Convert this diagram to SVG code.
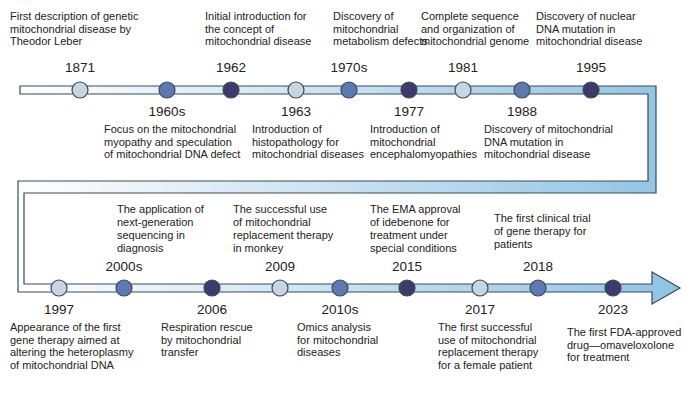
<svg xmlns="http://www.w3.org/2000/svg" width="700" height="407" viewBox="0 0 700 407">
<style>
text{font-family:"Liberation Sans",Arial,sans-serif;fill:#222}
.d{font-size:11px}
.y{font-size:13.5px;text-anchor:middle}
.band{fill:url(#g);stroke:#3a4a5a;stroke-width:1.2}
.c{stroke:#3a4a5a;stroke-width:1.2}
.l{fill:#c8d6e2}.m{fill:#5d79b1}.k{fill:#3d3b6d}
</style>
<defs>
<linearGradient id="g" x1="0" x2="1" y1="0" y2="0"><stop offset="0" stop-color="#ffffff"/><stop offset="1" stop-color="#8fc3e4"/></linearGradient>
</defs>
<rect width="700" height="407" fill="#fff"/>
<g id="connectors">
<path class="band" d="M20,86 H656 V193 H24 V284 H652 V272 L680,288 L652,304 V292 H18 V181 H648 V94 H20 Z"/>
</g>
<g id="n1871"><circle class="c l" cx="80" cy="90" r="8"/><text class="y" x="80" y="72">1871</text><text class="d"><tspan x="10" y="20">First description of genetic</tspan><tspan x="10" y="32.5">mitochondrial disease by</tspan><tspan x="10" y="45">Theodor Leber</tspan></text></g>
<g id="n1960s"><circle class="c m" cx="167" cy="90" r="8"/><text class="y" x="167" y="116">1960s</text><text class="d"><tspan x="104" y="133">Focus on the mitochondrial</tspan><tspan x="104" y="145.5">myopathy and speculation</tspan><tspan x="104" y="158">of mitochondrial DNA defect</tspan></text></g>
<g id="n1962"><circle class="c k" cx="231" cy="90" r="8"/><text class="y" x="231" y="72">1962</text><text class="d"><tspan x="205" y="20">Initial introduction for</tspan><tspan x="205" y="32.5">the concept of</tspan><tspan x="205" y="45">mitochondrial disease</tspan></text></g>
<g id="n1963"><circle class="c l" cx="296" cy="90" r="8"/><text class="y" x="296" y="116">1963</text><text class="d"><tspan x="252" y="133">Introduction of</tspan><tspan x="252" y="145.5">histopathology for</tspan><tspan x="252" y="158">mitochondrial diseases</tspan></text></g>
<g id="n1970s"><circle class="c m" cx="349" cy="90" r="8"/><text class="y" x="349" y="72">1970s</text><text class="d" font-size="10"><tspan x="333" y="20">Discovery of</tspan><tspan x="333" y="32.5">mitochondrial</tspan><tspan x="333" y="45">metabolism defects</tspan></text></g>
<g id="n1977"><circle class="c k" cx="409" cy="90" r="8"/><text class="y" x="409" y="116">1977</text><text class="d"><tspan x="370" y="133">Introduction of</tspan><tspan x="370" y="145.5">mitochondrial</tspan><tspan x="370" y="158">encephalomyopathies</tspan></text></g>
<g id="n1981"><circle class="c l" cx="463" cy="90" r="8"/><text class="y" x="463" y="72">1981</text><text class="d"><tspan x="421" y="20">Complete sequence</tspan><tspan x="421" y="32.5">and organization of</tspan><tspan x="421" y="45">mitochondrial genome</tspan></text></g>
<g id="n1988"><circle class="c m" cx="522" cy="90" r="8"/><text class="y" x="522" y="116">1988</text><text class="d"><tspan x="484" y="133">Discovery of  mitochondrial</tspan><tspan x="484" y="145.5">DNA mutation in</tspan><tspan x="484" y="158">mitochondrial disease</tspan></text></g>
<g id="n1995"><circle class="c k" cx="591" cy="90" r="8"/><text class="y" x="591" y="72">1995</text><text class="d"><tspan x="536" y="20">Discovery of  nuclear</tspan><tspan x="536" y="32.5">DNA mutation in</tspan><tspan x="536" y="45">mitochondrial disease</tspan></text></g>
<g id="n1997"><circle class="c l" cx="59" cy="288" r="8"/><text class="y" x="59" y="314">1997</text><text class="d"><tspan x="10" y="331">Appearance of the first</tspan><tspan x="10" y="343.5">gene therapy aimed at</tspan><tspan x="10" y="356">altering the heteroplasmy</tspan><tspan x="10" y="368.5">of mitochondrial DNA</tspan></text></g>
<g id="n2000s"><circle class="c m" cx="124" cy="288" r="8"/><text class="y" x="124" y="271">2000s</text><text class="d"><tspan x="117" y="213">The application of</tspan><tspan x="117" y="226">next-generation</tspan><tspan x="117" y="239">sequencing in</tspan><tspan x="117" y="252">diagnosis</tspan></text></g>
<g id="n2006"><circle class="c k" cx="212" cy="288" r="8"/><text class="y" x="212" y="314">2006</text><text class="d"><tspan x="161" y="331">Respiration rescue</tspan><tspan x="161" y="343.5">by mitochondrial</tspan><tspan x="161" y="356">transfer</tspan></text></g>
<g id="n2009"><circle class="c l" cx="280" cy="288" r="8"/><text class="y" x="280" y="271">2009</text><text class="d"><tspan x="233" y="213">The successful use</tspan><tspan x="233" y="226">of mitochondrial</tspan><tspan x="233" y="239">replacement therapy</tspan><tspan x="233" y="252">in monkey</tspan></text></g>
<g id="n2010s"><circle class="c m" cx="340" cy="288" r="8"/><text class="y" x="340" y="314">2010s</text><text class="d"><tspan x="297" y="331">Omics analysis</tspan><tspan x="297" y="343.5">for mitochondrial</tspan><tspan x="297" y="356">diseases</tspan></text></g>
<g id="n2015"><circle class="c k" cx="407" cy="288" r="8"/><text class="y" x="407" y="271">2015</text><text class="d"><tspan x="370" y="213">The EMA approval</tspan><tspan x="370" y="226">of idebenone for</tspan><tspan x="370" y="239">treatment under</tspan><tspan x="370" y="252">special conditions</tspan></text></g>
<g id="n2017"><circle class="c l" cx="480" cy="288" r="8"/><text class="y" x="480" y="314">2017</text><text class="d"><tspan x="438" y="331">The first successful</tspan><tspan x="438" y="343.5">use of mitochondrial</tspan><tspan x="438" y="356">replacement therapy</tspan><tspan x="438" y="368.5">for a female patient</tspan></text></g>
<g id="n2018"><circle class="c m" cx="538" cy="288" r="8"/><text class="y" x="538" y="271">2018</text><text class="d"><tspan x="494" y="222">The first clinical trial</tspan><tspan x="494" y="235">of gene therapy for</tspan><tspan x="494" y="248">patients</tspan></text></g>
<g id="n2023"><circle class="c k" cx="613" cy="288" r="8"/><text class="y" x="613" y="314">2023</text><text class="d"><tspan x="567" y="336">The first FDA-approved</tspan><tspan x="567" y="348.5">drug—omaveloxolone</tspan><tspan x="567" y="361">for treatment</tspan></text></g>
</svg>
